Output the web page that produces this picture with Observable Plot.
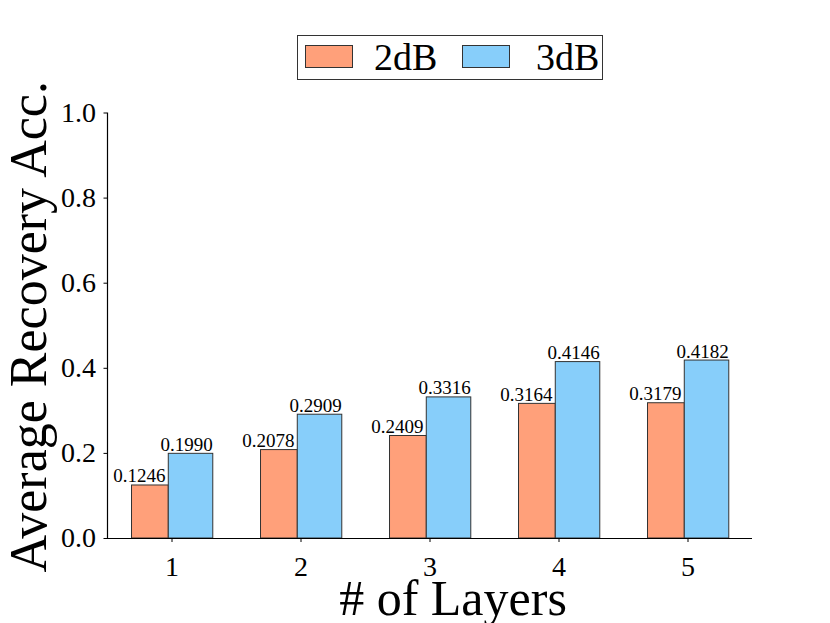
<!DOCTYPE html>
<html>
<head>
<meta charset="utf-8">
<script src="https://cdn.jsdelivr.net/npm/d3@7"></script>
<script src="https://cdn.jsdelivr.net/npm/@observablehq/plot@0.6"></script>
<style>
  html, body { margin: 0; padding: 0; background: #fff; }
  #wrap { position: relative; width: 830px; height: 623px; font-family: "Liberation Serif", "Times New Roman", serif; }
  #legend { position: absolute; left: 297px; top: 35px; width: 306px; height: 45px; border: 1.3px solid #333; box-sizing: border-box; background: #fff; }
  .sw { position: absolute; top: 9px; width: 48px; height: 23px; border: 1.2px solid #333; box-sizing: border-box; }
  .lt { position: absolute; top: 0px; font-size: 38px; line-height: 43px; color: #000; }
  #chart { position: absolute; left: 0; top: 0; }
</style>
</head>
<body>
<div id="wrap">
  <div id="chart"></div>
  <div id="legend"></div>
</div>
<script>
const layers = [1, 2, 3, 4, 5];
const acc2dB = [0.1246, 0.2078, 0.2409, 0.3164, 0.3179];
const acc3dB = [0.1990, 0.2909, 0.3316, 0.4146, 0.4182];
const seriesNames = ["2dB", "3dB"];
const seriesColors = ["#FFA07A", "#87CEFA"];
const yTicks = [0, 0.2, 0.4, 0.6, 0.8, 1.0];
const xDomain = [0.5, 5.5];
const xLabel = "# of Layers";
const yLabel = "Average Recovery Acc.";

const rows2 = layers.map((l, i) => ({layer: l, value: acc2dB[i]}));
const rows3 = layers.map((l, i) => ({layer: l, value: acc3dB[i]}));

const font = "Liberation Serif, Times New Roman, serif";

const chart = Plot.plot({
  width: 830,
  height: 623,
  marginTop: 112.5,
  marginBottom: 85,
  marginLeft: 107,
  marginRight: 78,
  style: {fontFamily: font, background: "transparent", color: "#000"},
  x: {type: "linear", domain: xDomain},
  y: {domain: [0, 1]},
  marks: [
    Plot.rect(rows2, {x1: d => d.layer - 0.31, x2: d => d.layer - 0.025, y1: d => 0, y2: "value", fill: seriesColors[0], stroke: "#333", strokeWidth: 1}),
    Plot.rect(rows3, {x1: d => d.layer - 0.025, x2: d => d.layer + 0.32, y1: d => 0, y2: "value", fill: seriesColors[1], stroke: "#333", strokeWidth: 1}),
    Plot.text(rows2, {x: d => d.layer - 0.252, y: "value", text: d => d.value.toFixed(4), lineAnchor: "bottom", dy: -3, fontSize: 19, fill: "#000"}),
    Plot.text(rows3, {x: d => d.layer + 0.113, y: "value", text: d => d.value.toFixed(4), lineAnchor: "bottom", dy: -3, fontSize: 19, fill: "#000"}),
    Plot.ruleY([yTicks[0]], {stroke: "#000", strokeWidth: 1.2}),
    Plot.ruleX([xDomain[0]], {stroke: "#000", strokeWidth: 1.2}),
    Plot.axisY({ticks: yTicks, tickFormat: d3.format(".1f"), tickSize: 3.5, tickPadding: 8, fontSize: 28, label: null, stroke: "#000"}),
    Plot.axisX({ticks: layers, tickFormat: d3.format("d"), tickSize: 4, tickPadding: 14, fontSize: 28, label: null, stroke: "#000"}),
    Plot.text([xLabel], {frameAnchor: "bottom", text: d => d, fontSize: 50, textAnchor: "middle", lineAnchor: "middle", dy: 60, dx: 23, fill: "#000"}),
    Plot.text([yLabel], {frameAnchor: "left", text: d => d, fontSize: 52, rotate: -90, textAnchor: "middle", lineAnchor: "middle", dx: -78, dy: 1, fill: "#000"})
  ]
});
document.getElementById("chart").appendChild(chart);

// legend
const legend = document.getElementById("legend");
const swLeft = [7, 164];
const txLeft = [76, 238];
seriesNames.forEach((name, i) => {
  const sw = document.createElement("div");
  sw.className = "sw";
  sw.style.left = swLeft[i] + "px";
  sw.style.background = seriesColors[i];
  legend.appendChild(sw);
  const t = document.createElement("div");
  t.className = "lt";
  t.style.left = txLeft[i] + "px";
  t.textContent = name;
  legend.appendChild(t);
});
</script>
</body>
</html>
